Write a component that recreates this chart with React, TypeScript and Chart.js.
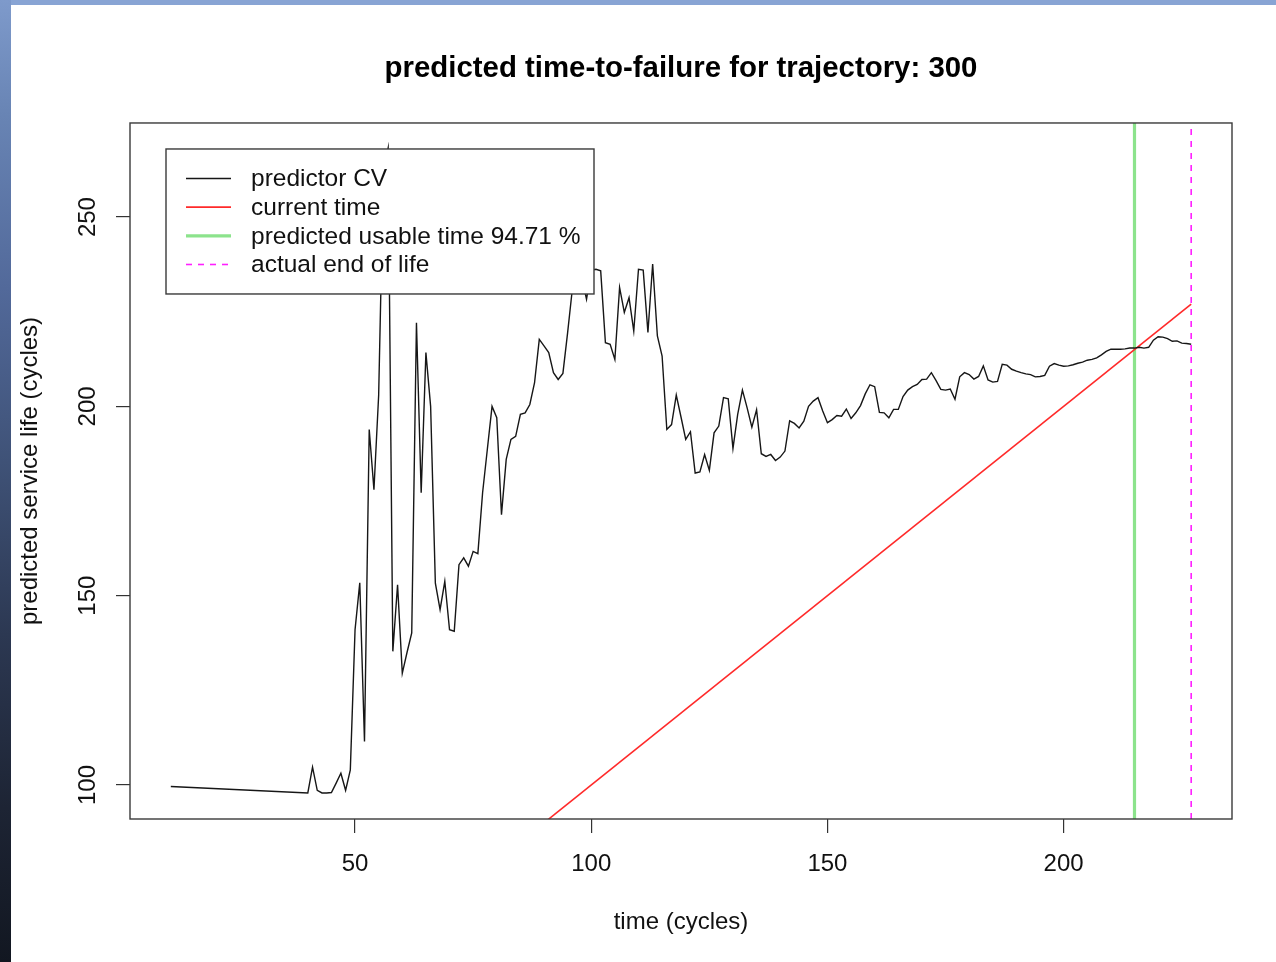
import React, { useEffect, useRef } from 'react';
import { Chart, registerables } from 'chart.js';

Chart.register(...registerables);

const FONT = '"Liberation Sans", Arial, Helvetica, sans-serif';

const CHART_TITLE = 'predicted time-to-failure for trajectory: 300';
const X_TITLE = 'time (cycles)';
const Y_TITLE = 'predicted service life (cycles)';

const X_TICKS = [50, 100, 150, 200];
const Y_TICKS = [100, 150, 200, 250];
const X_RANGE = [2.36, 235.64];
const Y_RANGE = [91.02, 274.85];

// predictor CV: first point at cycle 11, then one point per cycle from 40 to 227
const FIRST_POINT_CYCLE = 11;
const FIRST_POINT_VALUE = 99.6;
const SERIES_START_CYCLE = 40;
const predictorValues = [
  97.9, 104.7, 98.6, 97.9, 97.9, 98.0, 100.5, 103.1, 98.6, 104.0,
  141.0, 153.4, 111.5, 193.9, 178.0, 203.0, 262.0, 268.2, 135.3, 152.9,
  129.5, 135.0, 140.2, 222.1, 177.2, 214.2, 200.0, 153.3, 146.3, 153.8,
  141.0, 140.6, 158.2, 160.0, 157.8, 161.7, 161.1, 177.2, 188.6, 200.0,
  197.0, 171.4, 186.0, 191.3, 192.1, 197.9, 198.3, 200.5, 206.3, 217.7,
  216.0, 214.2, 208.9, 207.1, 208.7, 219.5, 231.0, 236.0, 234.0, 228.3,
  236.0, 236.2, 235.8, 216.8, 216.4, 212.4, 231.4, 224.8, 228.7, 219.9,
  236.2, 236.0, 219.5, 237.6, 218.6, 213.3, 193.9, 195.2, 203.0, 197.2,
  191.3, 193.3, 182.4, 182.7, 187.3, 183.1, 193.0, 194.8, 202.3, 202.0,
  188.9, 197.9, 204.3, 199.6, 194.5, 199.1, 187.5, 186.8, 187.3, 185.7,
  186.6, 188.2, 196.2, 195.5, 194.3, 196.1, 200.0, 201.4, 202.3, 198.8,
  195.7, 196.5, 197.6, 197.4, 199.3, 196.8, 198.3, 200.2, 203.3, 205.7,
  205.2, 198.4, 198.3, 197.0, 199.2, 199.2, 202.6, 204.3, 205.2, 205.8,
  207.1, 207.2, 208.9, 206.8, 204.5, 204.3, 204.6, 201.9, 207.8, 208.9,
  208.4, 207.2, 207.9, 210.7, 207.0, 206.4, 206.6, 211.1, 210.9, 209.8,
  209.3, 208.9, 208.6, 208.4, 207.8, 207.9, 208.2, 210.6, 211.3, 210.9,
  210.6, 210.7, 211.0, 211.4, 211.7, 212.2, 212.4, 212.8, 213.6, 214.5,
  215.1, 215.1, 215.1, 215.2, 215.4, 215.4, 215.6, 215.4, 215.6, 217.5,
  218.4, 218.3, 217.9, 217.2, 217.3, 216.7, 216.6, 216.4,
];

// current time: y = x
const currentTimeX = [1, 227];
const currentTimeY = [1, 227];

const PREDICTED_LIFE = 215;
const ACTUAL_LIFE = 227;

const LEGEND_LABELS = [
  'predictor CV',
  'current time',
  'predicted usable time 94.71 %',
  'actual end of life',
];

const framePlugin = {
  id: 'rFrame',
  afterDatasetsDraw(chart: any) {
    const { ctx, chartArea: a } = chart;
    ctx.save();
    ctx.strokeStyle = '#3a3a3a';
    ctx.lineWidth = 1.4;
    ctx.strokeRect(a.left, a.top, a.right - a.left, a.bottom - a.top);
    ctx.restore();
  },
};

const legendPlugin = {
  id: 'rLegend',
  afterDraw(chart: any) {
    const { ctx, chartArea: a } = chart;
    const lx = a.left + 36;
    const ly = a.top + 26;
    const w = 428;
    const h = 145;
    ctx.save();
    ctx.fillStyle = '#ffffff';
    ctx.fillRect(lx, ly, w, h);
    ctx.strokeStyle = '#3a3a3a';
    ctx.lineWidth = 1.4;
    ctx.strokeRect(lx, ly, w, h);
    ctx.font = `24.5px ${FONT}`;
    ctx.textBaseline = 'middle';
    ctx.textAlign = 'left';
    chart.data.datasets.forEach((ds: any, i: number) => {
      const y = ly + 29.5 + i * 28.67;
      ctx.beginPath();
      ctx.strokeStyle = ds.borderColor;
      ctx.lineWidth = ds.borderWidth;
      ctx.setLineDash(ds.borderDash || []);
      ctx.moveTo(lx + 20, y);
      ctx.lineTo(lx + 65, y);
      ctx.stroke();
      ctx.setLineDash([]);
      ctx.fillStyle = '#111';
      ctx.fillText(ds.label, lx + 85, y + 1);
    });
    ctx.restore();
  },
};

export default function App() {
  const ref = useRef<HTMLCanvasElement | null>(null);

  useEffect(() => {
    if (!ref.current) return;
    const predData = [{ x: FIRST_POINT_CYCLE, y: FIRST_POINT_VALUE }].concat(
      predictorValues.map((v, i) => ({ x: SERIES_START_CYCLE + i, y: v }))
    );
    const tickFont = { family: FONT, size: 24 };
    const chart = new Chart(ref.current, {
      type: 'scatter',
      data: {
        datasets: [
          {
            label: LEGEND_LABELS[0],
            data: predData,
            showLine: true,
            borderColor: '#161616',
            borderWidth: 1.4,
            pointRadius: 0,
            tension: 0,
          },
          {
            label: LEGEND_LABELS[1],
            data: currentTimeX.map((x, i) => ({ x, y: currentTimeY[i] })),
            showLine: true,
            borderColor: '#ff2a2a',
            borderWidth: 1.6,
            pointRadius: 0,
          },
          {
            label: LEGEND_LABELS[2],
            data: [
              { x: PREDICTED_LIFE, y: Y_RANGE[0] },
              { x: PREDICTED_LIFE, y: Y_RANGE[1] },
            ],
            showLine: true,
            borderColor: '#8ce38c',
            borderWidth: 3.2,
            pointRadius: 0,
          },
          {
            label: LEGEND_LABELS[3],
            data: [
              { x: ACTUAL_LIFE, y: Y_RANGE[0] },
              { x: ACTUAL_LIFE, y: Y_RANGE[1] },
            ],
            showLine: true,
            borderColor: '#ff20ff',
            borderWidth: 1.6,
            borderDash: [6, 6],
            pointRadius: 0,
          },
        ],
      } as any,
      options: {
        animation: false,
        responsive: false,
        maintainAspectRatio: false,
        events: [],
        layout: { padding: { left: 0, right: 44, top: 0, bottom: 0 } },
        plugins: {
          legend: { display: false },
          tooltip: { enabled: false },
          title: {
            display: true,
            fullSize: false,
            text: CHART_TITLE,
            color: '#000',
            font: { family: FONT, size: 29.4, weight: 'bold' },
            padding: { top: 51.3, bottom: 36.4 },
          },
        },
        scales: {
          x: {
            type: 'linear',
            min: X_RANGE[0],
            max: X_RANGE[1],
            afterBuildTicks: (s: any) => {
              s.ticks = X_TICKS.map((v) => ({ value: v }));
            },
            afterFit: (s: any) => {
              s.height = 143;
            },
            grid: {
              drawOnChartArea: false,
              drawTicks: true,
              tickLength: 14,
              color: '#333',
              lineWidth: 1.2,
            },
            border: { display: false },
            ticks: { font: tickFont, color: '#111', padding: 17, maxRotation: 0 },
            title: {
              display: true,
              text: X_TITLE,
              color: '#111',
              font: tickFont,
              padding: { top: 0, bottom: 25.6 },
            },
          },
          y: {
            type: 'linear',
            min: Y_RANGE[0],
            max: Y_RANGE[1],
            afterBuildTicks: (s: any) => {
              s.ticks = Y_TICKS.map((v) => ({ value: v }));
            },
            afterFit: (s: any) => {
              s.width = 130;
            },
            grid: {
              drawOnChartArea: false,
              drawTicks: true,
              tickLength: 14,
              color: '#333',
              lineWidth: 1.2,
            },
            border: { display: false },
            ticks: {
              font: tickFont,
              color: '#111',
              padding: 8,
              minRotation: 90,
              maxRotation: 90,
              crossAlign: 'center',
            },
            title: {
              display: true,
              text: Y_TITLE,
              color: '#111',
              font: tickFont,
              padding: { top: 15.6, bottom: 0 },
            },
          },
        },
      } as any,
      plugins: [framePlugin, legendPlugin],
    });
    return () => chart.destroy();
  }, []);

  return (
    <div
      style={{
        position: 'absolute',
        left: 0,
        top: 0,
        width: 1276,
        height: 962,
        background: '#ffffff',
        overflow: 'hidden',
      }}
    >
      <canvas
        ref={ref}
        width={1276}
        height={962}
        style={{ position: 'absolute', left: 0, top: 0, width: 1276, height: 962 }}
      />
      <div
        style={{
          position: 'absolute',
          left: 0,
          top: 0,
          width: 1276,
          height: 5,
          background: '#88a4d4',
        }}
      />
      <div
        style={{
          position: 'absolute',
          left: 0,
          top: 0,
          width: 11,
          height: 962,
          background:
            'linear-gradient(to bottom, #7e9acb 0%, #6884b4 12%, #52699a 30%, #3f5277 48%, #2c3852 66%, #1d2434 84%, #121721 100%)',
        }}
      />
    </div>
  );
}
